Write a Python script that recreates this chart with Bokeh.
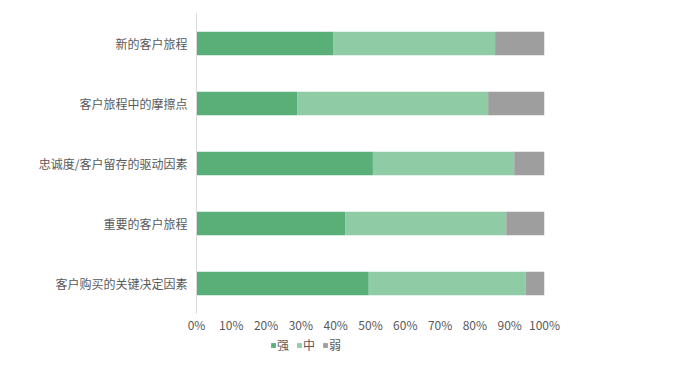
from bokeh.plotting import figure
from bokeh.layouts import column
from bokeh.models import FactorRange, Range1d, FixedTicker, PrintfTickFormatter, Legend, LegendItem
from bokeh.embed import file_html
from bokeh.resources import INLINE

categories = ["新的客户旅程", "客户旅程中的摩擦点", "忠诚度/客户留存的驱动因素", "重要的客户旅程", "客户购买的关键决定因素"]
strong = [39.4, 28.9, 50.7, 42.7, 49.5]
medium = [46.4, 54.9, 40.6, 46.3, 45.0]
weak = [14.2, 16.2, 8.7, 11.0, 5.5]
series_names = ["强", "中", "弱"]
colors = ["#5AAF78", "#8FCCA6", "#9E9E9E"]
x_ticks = [0, 10, 20, 30, 40, 50, 60, 70, 80, 90, 100]

FONT = "Noto Sans CJK SC"
TXT = "#595959"

data = dict(cat=categories, 强=strong, 中=medium, 弱=weak)

p = figure(width=681, height=337, output_backend="svg", toolbar_location=None,
           y_range=FactorRange(factors=list(reversed(categories)), range_padding=0),
           x_range=Range1d(0, 100),
           min_border_left=196, min_border_right=137, min_border_top=13, min_border_bottom=24)

p.hbar_stack(series_names, y="cat", height=0.39, color=colors, source=data, line_width=0)

p.outline_line_color = None
p.xgrid.visible = False
p.ygrid.visible = False
p.background_fill_color = "white"
p.border_fill_color = "white"

ya = p.yaxis[0]
ya.axis_line_color = "#D9D9D9"
ya.major_tick_line_color = None
ya.minor_tick_line_color = None
ya.major_tick_out = 0
ya.major_label_standoff = 9
ya.major_label_text_font = FONT
ya.major_label_text_font_size = "12px"
ya.major_label_text_color = TXT

xa = p.xaxis[0]
xa.ticker = FixedTicker(ticks=x_ticks)
xa.formatter = PrintfTickFormatter(format="%d%%")
xa.axis_line_color = None
xa.major_tick_line_color = None
xa.minor_tick_line_color = None
xa.major_tick_out = 0
xa.major_label_standoff = 2
xa.major_label_text_font = FONT
xa.major_label_text_font_size = "12px"
xa.major_label_text_color = TXT

# legend strip below the chart (its bars lie far outside its visible range)
lg = figure(width=681, height=16, output_backend="svg", toolbar_location=None,
            y_range=Range1d(0, 1), x_range=Range1d(0, 100),
            x_axis_location=None, y_axis_location=None, min_border=0)
lg.outline_line_color = None
lg.xgrid.visible = False
lg.ygrid.visible = False
lrs = lg.hbar_stack(series_names, y=-50, height=0.39, color=colors, source=data, line_width=0)

legend = Legend(items=[LegendItem(label=n, renderers=[r]) for n, r in zip(series_names, lrs)],
                location=(74, 0), orientation="horizontal",
                glyph_width=6, glyph_height=6, label_standoff=1, spacing=7,
                label_width=12,
                padding=0, margin=0, border_line_color=None, background_fill_alpha=0,
                label_text_font=FONT, label_text_font_size="12px", label_text_color=TXT,
                label_height=14)
lg.add_layout(legend, "center")

layout = column(p, lg, spacing=0)
open("out.html", "w").write(file_html(layout, INLINE))
